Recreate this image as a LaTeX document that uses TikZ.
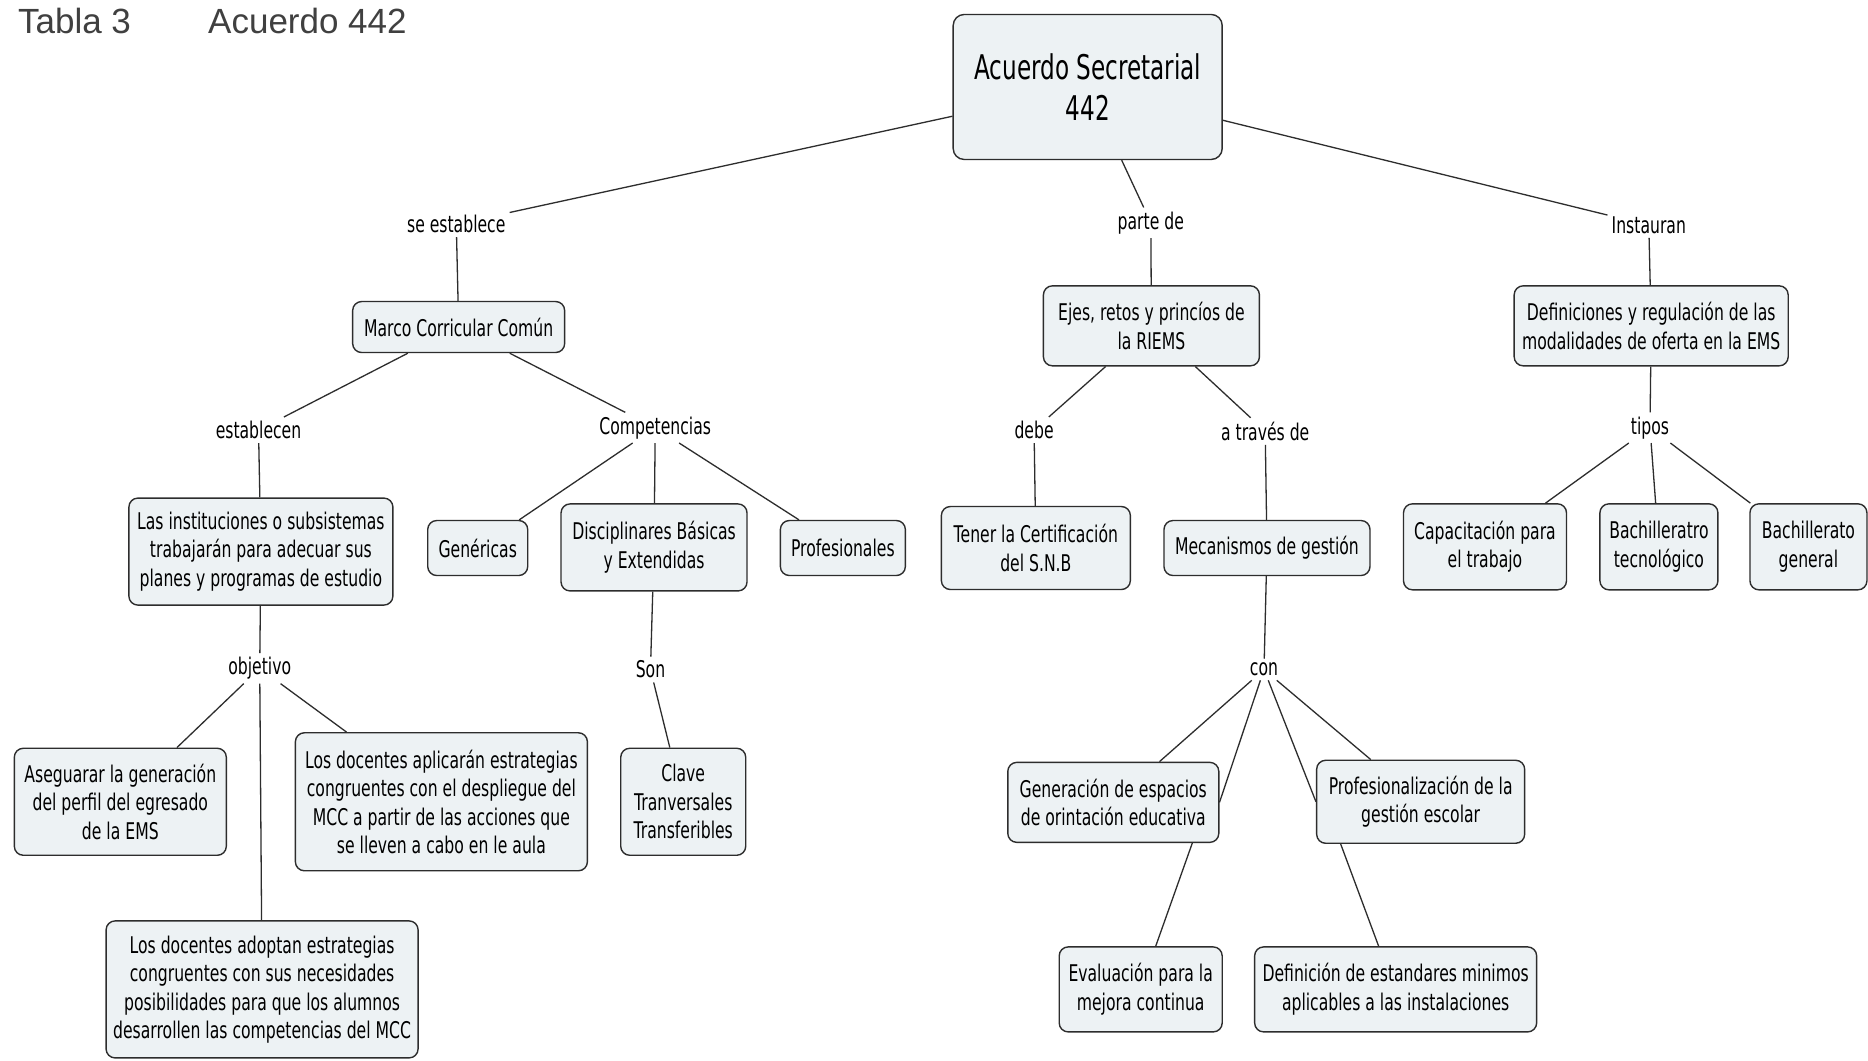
\documentclass[tikz,border=0pt]{standalone}
\usepackage{fontspec}
\setmainfont[FakeStretch=0.68]{DejaVu Sans}
\newfontfamily\titlefont{Liberation Sans}
\definecolor{boxfill}{RGB}{237,242,244}
\definecolor{boxline}{RGB}{45,45,45}
\definecolor{titlegray}{RGB}{64,64,64}
\begin{document}
\begin{tikzpicture}[x=1.1913pt,y=-1.1913pt,
  box/.style={draw=boxline, line width=1.4pt, rounded corners=9pt, fill=boxfill,
    align=center, inner sep=2pt, font=\fontsize{23}{28.5}\selectfont},
  lab/.style={inner sep=4pt, font=\fontsize{23}{28.5}\selectfont},
  conn/.style={draw=boxline, line width=1.3pt},
  ttl/.style={anchor=base west, inner sep=0pt, text=titlegray, font=\titlefont\fontsize{35}{40}\selectfont}]
\useasboundingbox (0,0) rectangle (1568,890);
\fill[white] (0,0) rectangle (1568,890);

% title
\node[ttl] (t1) at (15,27.7) {Tabla 3};
\node[ttl] (t2) at (174.6,27.7) {Acuerdo 442};

% nodes
\node[box, minimum width=269pt, minimum height=145pt, rounded corners=11pt,
  font=\fontsize{34}{41.5}\selectfont] (root) at (913,73) {Acuerdo Secretarial\\442};

\node[lab] (seest) at (383,188) {se establece};
\node[lab] (parte) at (966,187) {parte de};
\node[lab] (inst) at (1384,189) {Instauran};

\node[box, minimum width=212pt, minimum height=51pt] (marco) at (385,274.5) {Marco Corricular Común};
\node[box, minimum width=216pt, minimum height=80pt] (ejes) at (966.5,273.5) {Ejes, retos y princíos de\\la RIEMS};
\node[box, minimum width=274pt, minimum height=80pt] (defs) at (1386,273.5) {Definiciones y regulación de las\\modalidades de oferta en la EMS};

\node[lab] (estab) at (217,361) {establecen};
\node[lab] (comp) at (550,359) {Competencias};
\node[lab] (debe) at (868,361) {debe};
\node[lab] (atrav) at (1062,362) {a través de};
\node[lab] (tipos) at (1385,359) {tipos};

\node[box, minimum width=264pt, minimum height=107pt] (lasinst) at (219,463) {Las instituciones o subsistemas\\trabajarán para adecuar sus\\planes y programas de estudio};
\node[box, minimum width=100pt, minimum height=55pt] (gen) at (401,460) {Genéricas};
\node[box, minimum width=186pt, minimum height=87pt] (disc) at (549,459.5) {Disciplinares Básicas\\y Extendidas};
\node[box, minimum width=125pt, minimum height=55pt] (prof) at (707.5,460) {Profesionales};
\node[box, minimum width=189pt, minimum height=83pt] (tener) at (869.5,460) {Tener la Certificación\\del S.N.B};
\node[box, minimum width=206pt, minimum height=55pt] (meca) at (1063.5,460) {Mecanismos de gestión};
\node[box, minimum width=163pt, minimum height=86pt] (capa) at (1246.5,459) {Capacitación para\\el trabajo};
\node[box, minimum width=118pt, minimum height=86pt] (btec) at (1392.5,459) {Bachilleratro\\tecnológico};
\node[box, minimum width=117pt, minimum height=86pt] (bgen) at (1518,459) {Bachillerato\\general};

\node[lab] (obj) at (218,561) {objetivo};
\node[lab] (son) at (546,562) {Son};
\node[lab] (con) at (1061,562) {con};

\node[box, minimum width=212pt, minimum height=107pt] (aseg) at (101,673) {Aseguarar la generación\\del perfil del egresado\\de la EMS};
\node[box, minimum width=292pt, minimum height=138pt] (aplic) at (370.5,673) {Los docentes aplicarán estrategias\\congruentes con el despliegue del\\MCC a partir de las acciones que\\se lleven a cabo en le aula};
\node[box, minimum width=125pt, minimum height=107pt] (clave) at (573.5,673) {Clave\\Tranversales\\Transferibles};
\node[box, minimum width=211pt, minimum height=80pt] (genesp) at (934.5,673.5) {Generación de espacios\\de orintación educativa};
\node[box, minimum width=208pt, minimum height=83pt] (profes) at (1192.5,673) {Profesionalización de la\\gestión escolar};

\node[box, minimum width=312pt, minimum height=137pt] (adopt) at (220,830.5) {Los docentes adoptan estrategias\\congruentes con sus necesidades\\posibilidades para que los alumnos\\desarrollen las competencias del MCC};
\node[box, minimum width=163pt, minimum height=85pt] (eval) at (957.5,830.5) {Evaluación para la\\mejora continua};
\node[box, minimum width=282pt, minimum height=85pt] (defin) at (1171.5,830.5) {Definición de estandares minimos\\aplicables a las instalaciones};

% connectors
\draw[conn] (root) -- (seest);
\draw[conn] (root) -- (parte);
\draw[conn] (root) -- (inst);
\draw[conn] (seest) -- (marco);
\draw[conn] (parte) -- (ejes);
\draw[conn] (inst) -- (defs);
\draw[conn] (marco) -- (estab);
\draw[conn] (marco) -- (comp);
\draw[conn] (estab) -- (lasinst);
\draw[conn] (comp) -- (gen);
\draw[conn] (comp) -- (disc);
\draw[conn] (comp) -- (prof);
\draw[conn] (lasinst) -- (obj);
\draw[conn] (obj) -- (aseg);
\draw[conn] (obj) -- (aplic);
\draw[conn] (obj) -- (adopt);
\draw[conn] (disc) -- (son);
\draw[conn] (son) -- (clave);
\draw[conn] (ejes) -- (debe);
\draw[conn] (ejes) -- (atrav);
\draw[conn] (debe) -- (tener);
\draw[conn] (atrav) -- (meca);
\draw[conn] (meca) -- (con);
\draw[conn] (con) -- (genesp);
\draw[conn] (con) -- (genesp.east);
\draw[conn] (con) -- (profes.west);
\draw[conn] (con) -- (profes);
\draw[conn] ([xshift=79pt]genesp.south) -- ([xshift=15pt]eval.north);
\draw[conn] ([xshift=-80pt]profes.south) -- ([xshift=-17pt]defin.north);
\draw[conn] (defs) -- (tipos);
\draw[conn] (tipos) -- (capa);
\draw[conn] (tipos) -- (btec);
\draw[conn] (tipos) -- (bgen);
\end{tikzpicture}
\end{document}
